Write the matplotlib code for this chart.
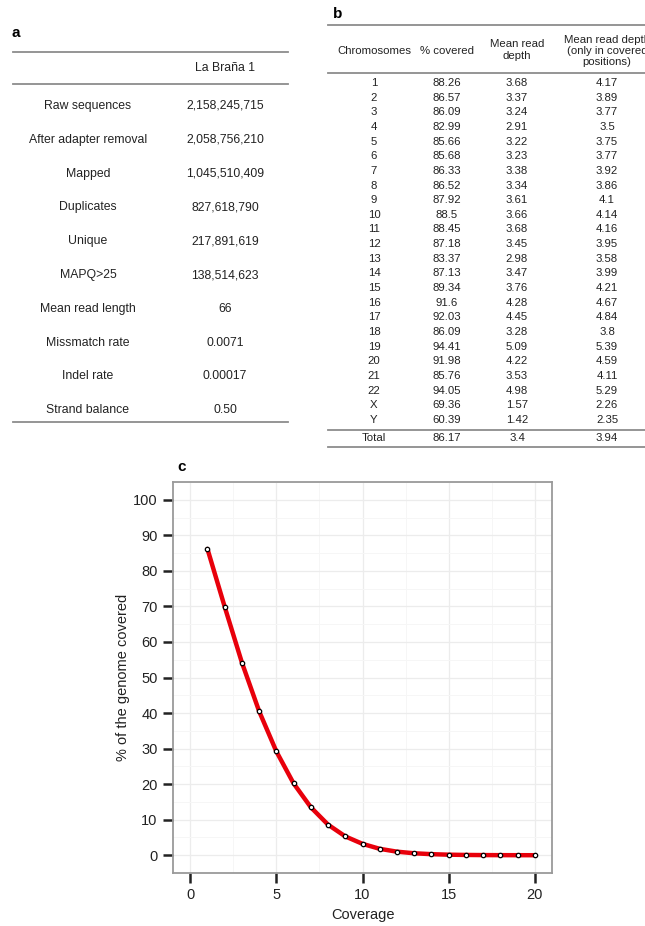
import numpy as np
import matplotlib.pyplot as plt
from matplotlib.ticker import MultipleLocator

plt.rcParams['font.family'] = ['Liberation Sans', 'DejaVu Sans']

# Tabla a: resumen de secuenciación
stats_labels = ['Raw sequences', 'After adapter removal', 'Mapped', 'Duplicates',
                'Unique', 'MAPQ>25', 'Mean read length', 'Missmatch rate',
                'Indel rate', 'Strand balance']
stats_values = ['2,158,245,715', '2,058,756,210', '1,045,510,409', '827,618,790',
                '217,891,619', '138,514,623', '66', '0.0071', '0.00017', '0.50']

# Tabla b: cobertura por cromosoma
chroms = [str(i) for i in range(1, 23)] + ['X', 'Y']
pct_covered = ['88.26', '86.57', '86.09', '82.99', '85.66', '85.68', '86.33', '86.52',
               '87.92', '88.5', '88.45', '87.18', '83.37', '87.13', '89.34', '91.6',
               '92.03', '86.09', '94.41', '91.98', '85.76', '94.05', '69.36', '60.39']
mean_depth = ['3.68', '3.37', '3.24', '2.91', '3.22', '3.23', '3.38', '3.34',
              '3.61', '3.66', '3.68', '3.45', '2.98', '3.47', '3.76', '4.28',
              '4.45', '3.28', '5.09', '4.22', '3.53', '4.98', '1.57', '1.42']
depth_covered = ['4.17', '3.89', '3.77', '3.5', '3.75', '3.77', '3.92', '3.86',
                 '4.1', '4.14', '4.16', '3.95', '3.58', '3.99', '4.21', '4.67',
                 '4.84', '3.8', '5.39', '4.59', '4.11', '5.29', '2.26', '2.35']
total_row = ['Total', '86.17', '3.4', '3.94']

# Gráfico c: % del genoma cubierto por cobertura mínima
coverage = np.arange(1, 21)
genome_covered = [86.17, 69.9, 54.2, 40.5, 29.2, 20.2, 13.5, 8.6, 5.3, 3.2,
                  1.8, 1.0, 0.55, 0.3, 0.15, 0.08, 0.04, 0.02, 0.01, 0.005]

W, H = 645, 926
fig = plt.figure(figsize=(W / 100, H / 100), dpi=100)

# Lienzo en coordenadas de píxel para las tablas
canvas = fig.add_axes([0, 0, 1, 1])
canvas.set_xlim(0, W)
canvas.set_ylim(H, 0)
canvas.axis('off')

rule = dict(color='#8c8c8c', lw=1.3)
txt = dict(ha='center', va='center', color='#222222')

# --- Tabla a ---
canvas.text(12, 33, 'a', fontsize=11, fontweight='bold', ha='left', va='center')
canvas.plot([13, 288], [52, 52], **rule)
canvas.plot([13, 288], [84, 84], **rule)
canvas.plot([13, 288], [422, 422], **rule)
canvas.text(225, 68, 'La Braña 1', fontsize=8.8, **txt)
for i, (lab, val) in enumerate(zip(stats_labels, stats_values)):
    y = 106 + i * 33.8
    canvas.text(88, y, lab, fontsize=8.8, **txt)
    canvas.text(225, y, val, fontsize=8.8, **txt)

# --- Tabla b ---
cols_x = [374, 447, 517, 607]
canvas.text(333, 14, 'b', fontsize=11, fontweight='bold', ha='left', va='center')
canvas.plot([328, W], [25, 25], **rule)
canvas.plot([328, W], [73, 73], **rule)
canvas.plot([328, W], [430, 430], **rule)
canvas.plot([328, W], [447, 447], **rule)
canvas.text(cols_x[0], 51, 'Chromosomes', fontsize=8.2, **txt)
canvas.text(cols_x[1], 51, '% covered', fontsize=8.2, **txt)
canvas.text(cols_x[2], 50, 'Mean read\ndepth', fontsize=8.2, linespacing=1.2, **txt)
canvas.text(cols_x[3], 51, 'Mean read depth\n(only in covered\npositions)',
            fontsize=8.2, linespacing=1.15, **txt)
for i, row in enumerate(zip(chroms, pct_covered, mean_depth, depth_covered)):
    y = 83 + i * 14.65
    for x, v in zip(cols_x, row):
        canvas.text(x, y, v, fontsize=8.2, **txt)
for x, v in zip(cols_x, total_row):
    canvas.text(x, 438, v, fontsize=8.2, **txt)

# --- Gráfico c ---
canvas.text(177, 467, 'c', fontsize=11, fontweight='bold', ha='left', va='center')
ax = fig.add_axes([173 / W, 1 - 873 / H, (552 - 173) / W, (873 - 482) / H])
ax.plot(coverage, genome_covered, color='#e8000b', lw=3.2, solid_capstyle='round', zorder=3)
ax.scatter(coverage, genome_covered, s=10, facecolor='white', edgecolor='black',
           linewidth=0.9, zorder=4)

ax.set_xlim(-1, 21)
ax.set_ylim(-5, 105)
ax.xaxis.set_major_locator(MultipleLocator(5))
ax.xaxis.set_minor_locator(MultipleLocator(2.5))
ax.yaxis.set_major_locator(MultipleLocator(10))
ax.yaxis.set_minor_locator(MultipleLocator(5))
ax.grid(which='major', color='#ececec', lw=0.9)
ax.grid(which='minor', color='#f6f6f6', lw=0.7)
ax.set_axisbelow(True)
for s in ax.spines.values():
    s.set_color('#9a9a9a')
    s.set_linewidth(1.3)
ax.tick_params(which='major', direction='out', length=7, width=1.8, color='#222222',
               labelsize=10.5, labelcolor='#222222', pad=4)
ax.tick_params(which='minor', length=0)
ax.set_xlabel('Coverage', fontsize=10.5, color='#222222', labelpad=4)
ax.set_ylabel('% of the genome covered', fontsize=10.5, color='#222222', labelpad=2)

fig.savefig('out.png', dpi=100)
